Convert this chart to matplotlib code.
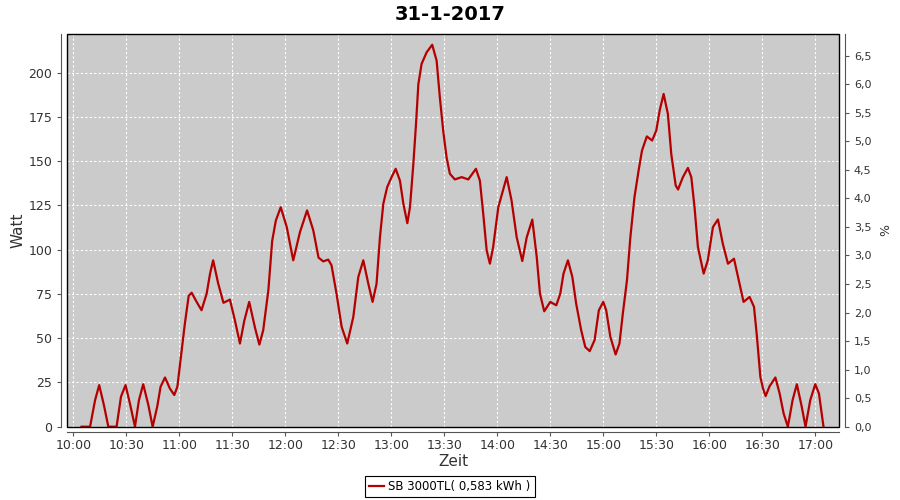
import numpy as np
import pandas as pd
import matplotlib
matplotlib.use("Agg")
import matplotlib.pyplot as plt
import matplotlib.dates as mdates
from matplotlib.patches import Rectangle

# readings (time of day, Watt) from the chart
times = [
    "10:04:40", "10:09:30", "10:12:20", "10:14:40", "10:17:20", "10:19:50", "10:24:30",
    "10:27:00", "10:29:35", "10:32:05", "10:34:55", "10:37:10", "10:39:35", "10:42:30",
    "10:44:55", "10:47:30", "10:49:25", "10:51:55", "10:54:40", "10:57:10", "10:58:55",
    "11:01:20", "11:03:10", "11:05:20", "11:07:00", "11:09:50", "11:12:35", "11:15:30",
    "11:17:25", "11:19:10", "11:22:00", "11:25:00", "11:28:40", "11:31:30", "11:34:20",
    "11:36:50", "11:39:35", "11:42:50", "11:45:20", "11:47:30", "11:50:25", "11:52:35",
    "11:54:40", "11:57:25", "12:00:50", "12:04:30", "12:08:20", "12:12:20", "12:15:50",
    "12:18:50", "12:21:30", "12:24:20", "12:26:10", "12:29:00", "12:31:55", "12:35:05",
    "12:38:30", "12:41:20", "12:44:10", "12:47:00", "12:49:25", "12:51:40", "12:53:35",
    "12:55:30", "12:57:40", "13:00:10", "13:02:30", "13:04:55", "13:06:50", "13:09:05",
    "13:10:35", "13:12:30", "13:14:00", "13:15:20", "13:17:10", "13:20:00", "13:23:10",
    "13:25:40", "13:27:30", "13:29:25", "13:31:20", "13:33:10", "13:36:00", "13:39:50",
    "13:43:35", "13:47:55", "13:50:10", "13:52:05", "13:54:00", "13:55:50", "13:57:40",
    "14:00:35", "14:05:20", "14:08:05", "14:11:00", "14:14:10", "14:16:40", "14:19:50",
    "14:22:20", "14:24:10", "14:26:35", "14:30:00", "14:33:25", "14:35:40", "14:37:30",
    "14:40:00", "14:42:30", "14:44:40", "14:47:30", "14:49:50", "14:52:20", "14:55:05",
    "14:57:30", "15:00:00", "15:01:40", "15:04:00", "15:07:00", "15:09:10", "15:11:05",
    "15:13:25", "15:15:20", "15:17:40", "15:20:00", "15:21:55", "15:24:40", "15:27:40",
    "15:30:00", "15:31:55", "15:34:10", "15:36:35", "15:38:30", "15:41:00", "15:42:20",
    "15:45:05", "15:47:55", "15:49:50", "15:51:40", "15:53:35", "15:56:50", "15:59:10",
    "16:02:05", "16:04:55", "16:07:40", "16:10:35", "16:14:00", "16:17:10", "16:19:25",
    "16:22:50", "16:25:20", "16:27:00", "16:28:55", "16:30:25", "16:31:55", "16:34:10",
    "16:37:25", "16:39:50", "16:42:05", "16:44:30", "16:47:10", "16:49:35", "16:52:10",
    "16:54:30", "16:57:10", "17:00:00", "17:02:05", "17:04:40",
]
watt = [
    0, 0, 15, 23.5, 12.2, 0, 0,
    17, 23.5, 13, 0, 15, 24, 12.2,
    0, 11.3, 22.6, 27.8, 21.6, 17.9, 22.6,
    43.2, 58.3, 74, 75.7, 70.5, 65.8, 75.2,
    86.5, 94, 81, 70, 71.8, 60, 47,
    60, 70.5, 56, 46.4, 54.5, 77, 105,
    116.5, 124, 112.8, 94, 110, 122.2, 111,
    95.5, 93.4, 94.4, 91.2, 75.2, 56.4, 47,
    62, 84.6, 94, 80.8, 70.5, 80.8, 107,
    126, 135.3, 141, 145.7, 139, 126, 115,
    124, 148.5, 171, 193.6, 205, 211.5, 215.8,
    206.8, 186, 167, 152, 142.9, 139.7, 141,
    139.7, 145.7, 139, 120, 99.6, 92.1, 101.5,
    124, 141, 127.8, 107, 93.6, 107, 117,
    95.9, 75.2, 65.2, 70.5, 68.6, 75.2, 86.5,
    94, 84.6, 69.5, 54.5, 45, 42.7, 48.9,
    65.8, 70.5, 65.8, 50.8, 40.8, 47, 64,
    82.7, 107, 129.7, 144.7, 156, 164, 161.7,
    167.3, 178.6, 188, 176.7, 154, 136.3, 134,
    141, 146.2, 141, 124, 101.5, 86.5, 94,
    112.8, 117.1, 103.4, 92.1, 94.9, 80.8, 70.5,
    73.3, 67.7, 50.8, 28.2, 21.6, 17.3, 22.9,
    27.8, 18.8, 7.5, 0, 15, 24, 12.2,
    0, 15, 24, 18.8, 0,
]
day = "2017-01-31"
series_label = "SB 3000TL( 0,583 kWh )"
title = "31-1-2017"

t = pd.to_datetime([day + " " + s for s in times])

fig = plt.figure(figsize=(9, 5), dpi=100)
ax = fig.add_axes([0.0744, 0.1466, 0.8581, 0.7848])
ax.set_facecolor("#cbcbcb")

line, = ax.plot(t, watt, color="#b40000", lw=1.6, label=series_label)

ax.set_xlim(pd.Timestamp(day + " 09:56:25"), pd.Timestamp(day + " 17:13:35"))
ax.set_ylim(0, 221.7)
ax.set_yticks(np.arange(0, 201, 25))
ax.xaxis.set_major_locator(mdates.MinuteLocator(byminute=[0, 30]))
ax.xaxis.set_major_formatter(mdates.DateFormatter("%H:%M"))

ax.grid(True, color="white", ls=(0, (2, 2)), lw=0.8)
ax.set_axisbelow(True)

ax2 = ax.twinx()
ax2.set_ylim(0, 6.875)
ax2.set_yticks(np.arange(0, 6.51, 0.5))
ax2.set_yticklabels([f"{v:.1f}".replace(".", ",") for v in np.arange(0, 6.51, 0.5)])

gray = "#555555"
for a in (ax, ax2):
    for s in a.spines.values():
        s.set_visible(False)
    a.tick_params(colors=gray, labelcolor="#333333", length=3, width=0.8, direction="out")
ax.tick_params(axis="both", labelsize=9)
ax.tick_params(axis="x", pad=2)
ax2.tick_params(axis="y", labelsize=8)
ax.spines["left"].set_visible(True)
ax.spines["left"].set_position(("outward", 4))
ax.spines["left"].set_color(gray)
ax.spines["bottom"].set_visible(True)
ax.spines["bottom"].set_position(("outward", 4))
ax.spines["bottom"].set_color(gray)
ax2.spines["right"].set_visible(True)
ax2.spines["right"].set_position(("outward", 4))
ax2.spines["right"].set_color(gray)

ax2.add_patch(Rectangle((0, 0), 1, 1, transform=ax.transAxes, fill=False,
                        ec="black", lw=1.0, clip_on=False, zorder=5))

ax.set_ylabel("Watt", fontsize=11, color="#333333", labelpad=2)
ax.set_xlabel("Zeit", fontsize=11, color="#333333", labelpad=1)
ax2.set_ylabel("%", fontsize=9, color="#333333", rotation=-90, labelpad=12)
fig.suptitle(title, fontsize=14, fontweight="bold", y=0.99)

leg = fig.legend(handles=[line], loc="lower center", bbox_to_anchor=(0.5, 0.006),
                 borderaxespad=0, fontsize=8.5, fancybox=False, edgecolor="black",
                 framealpha=1, handlelength=1.2, handletextpad=0.4, borderpad=0.35)
leg.get_frame().set_linewidth(0.8)

fig.savefig("out.png", dpi=100)
